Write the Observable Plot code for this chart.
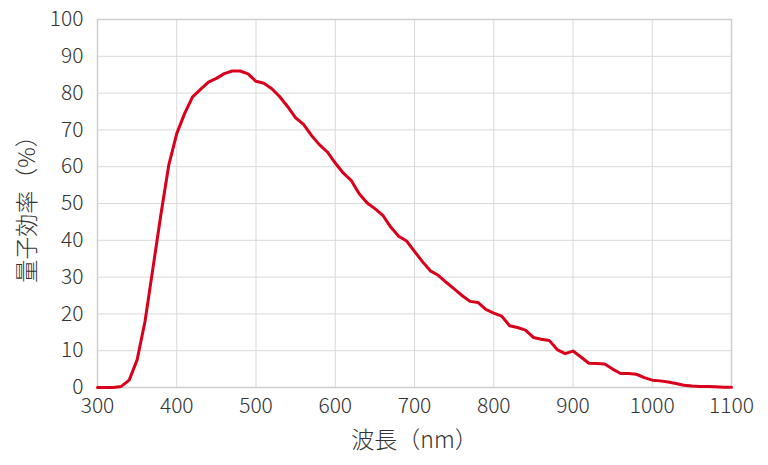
<!DOCTYPE html>
<html>
<head>
<meta charset="utf-8">
<script src="https://cdn.jsdelivr.net/npm/d3@7"></script>
<script src="https://cdn.jsdelivr.net/npm/@observablehq/plot@0.6"></script>
<style>
  html, body { margin: 0; padding: 0; background: #fff; }
  #chart svg { display: block; }
</style>
</head>
<body>
<div id="chart"></div>
<script>
const wavelengths = [300,310,320,330,340,350,360,370,380,390,400,410,420,430,440,450,460,470,480,490,500,
  510,520,530,540,550,560,570,580,590,600,610,620,630,640,650,660,670,680,690,700,
  710,720,730,740,750,760,770,780,790,800,810,820,830,840,850,860,870,880,890,900,
  910,920,930,940,950,960,970,980,990,1000,1010,1020,1030,1040,1050,1060,1070,1080,1090,1100];
const efficiency = [0,0,0,0.3,2,7.5,18,32.5,47,60.5,69,74.5,79,81,83,84,85.3,86,86,85.2,83.2,
  82.7,81.2,79,76.3,73.3,71.5,68.5,66,64,61,58.3,56.3,52.7,50.2,48.6,46.8,43.6,41.1,39.8,37,
  34.2,31.7,30.5,28.6,26.8,25,23.4,23.1,21.2,20.2,19.4,16.8,16.3,15.6,13.6,13.1,12.8,10.3,9.2,9.9,
  8.3,6.6,6.5,6.4,5,3.8,3.8,3.6,2.7,2,1.8,1.5,1.1,0.6,0.4,0.3,0.3,0.2,0.1,0.1];
const xTicks = [300,400,500,600,700,800,900,1000,1100];
const yTicks = [0,10,20,30,40,50,60,70,80,90,100];
const xLabel = "波長（nm）";
const yLabel = "量子効率（%）";

const data = wavelengths.map((w, i) => ({w, q: efficiency[i]}));
const font = "'Noto Sans CJK JP', 'Noto Sans', sans-serif";

const chart = Plot.plot({
  width: 768,
  height: 465,
  marginLeft: 97,
  marginRight: 37,
  marginTop: 19,
  marginBottom: 78,
  style: {fontFamily: font, color: "#333", background: "#fff", fontWeight: 300},
  x: {domain: [300, 1100]},
  y: {domain: [0, 100]},
  marks: [
    Plot.gridX(xTicks, {stroke: "#d9d9d9", strokeOpacity: 1, strokeWidth: 1}),
    Plot.gridY(yTicks, {stroke: "#d9d9d9", strokeOpacity: 1, strokeWidth: 1}),
    Plot.frame({stroke: "#cfcfcf", strokeWidth: 1.5}),
    Plot.axisX(xTicks, {tickSize: 0, tickPadding: 11, fontSize: 21, tickFormat: "d", label: null, fill: "#333"}),
    Plot.axisY(yTicks, {tickSize: 0, tickPadding: 14, fontSize: 21, tickFormat: "d", label: null, fill: "#333"}),
    Plot.axisX([], {label: xLabel, labelAnchor: "center", labelArrow: "none", labelOffset: 60, fontSize: 23, fill: "#333"}),
    Plot.axisY([], {label: yLabel, labelAnchor: "center", labelArrow: "none", labelOffset: 79, fontSize: 23, fill: "#333"}),
    Plot.line(data, {x: "w", y: "q", stroke: "#d9001b", strokeWidth: 3, strokeLinejoin: "round"})
  ]
});
document.getElementById("chart").appendChild(chart);
</script>
</body>
</html>
